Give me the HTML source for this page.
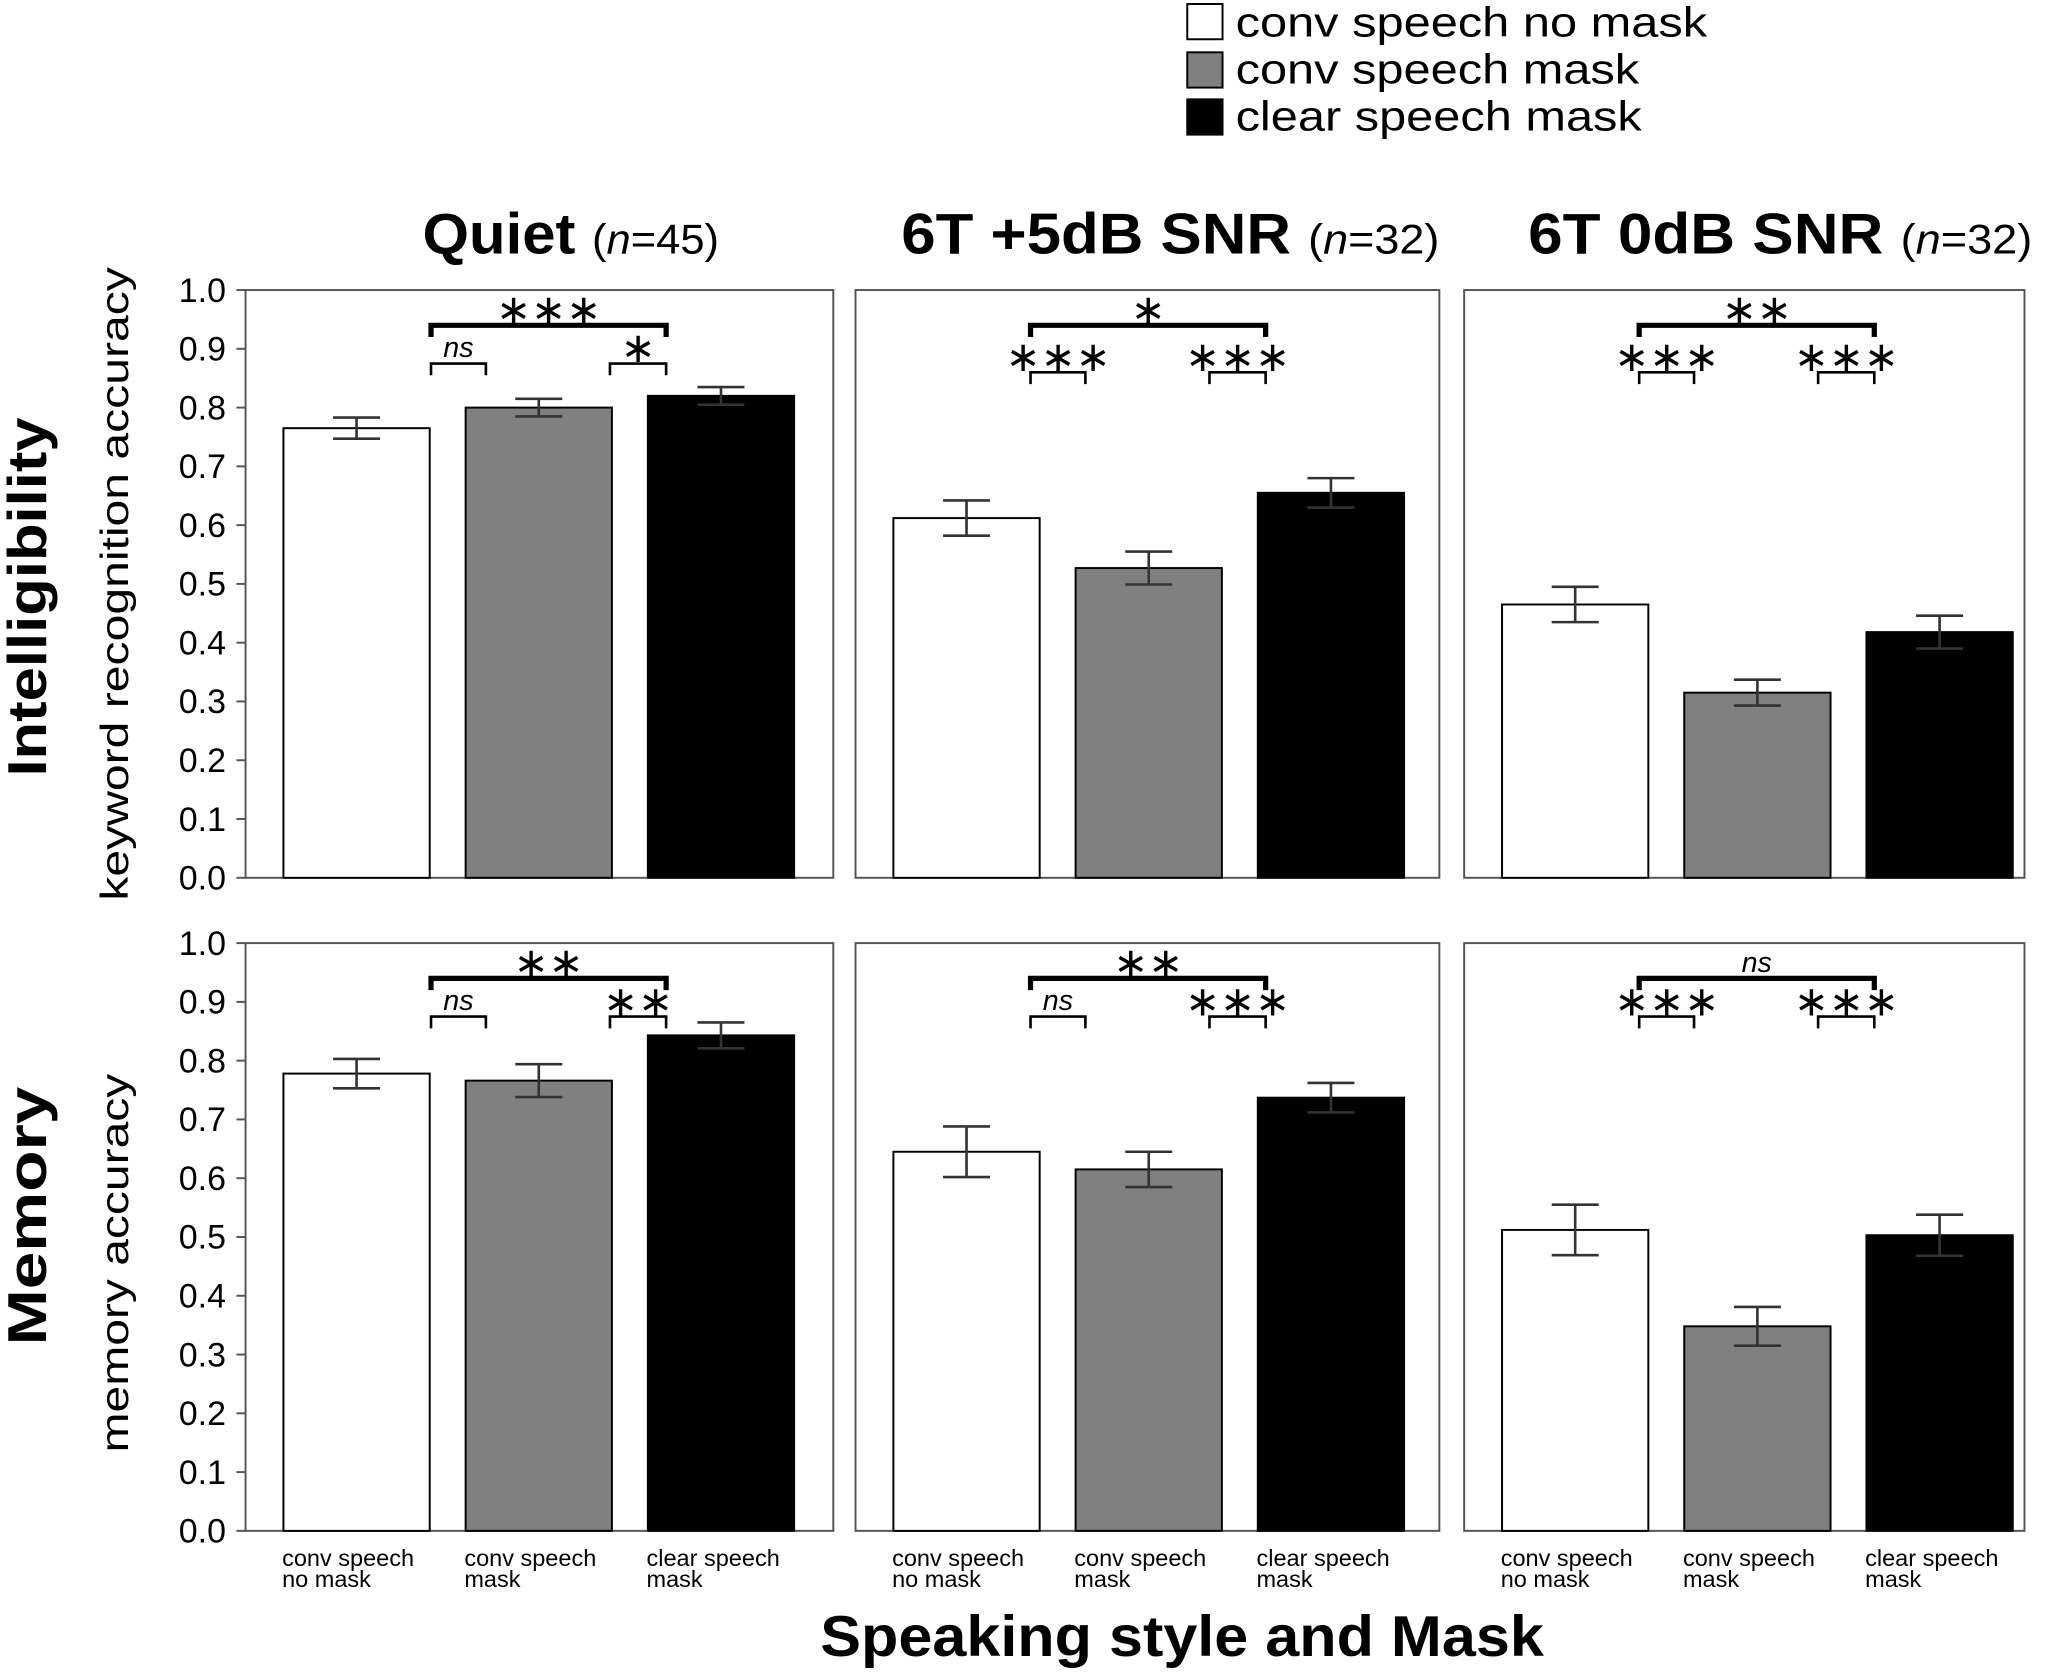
<!DOCTYPE html>
<html><head><meta charset="utf-8"><style>
html,body{margin:0;padding:0;background:#fff;}
svg{display:block;font-family:"Liberation Sans",Arial,sans-serif;}
</style></head><body>
<svg id="fig" width="2048" height="1672" viewBox="0 0 1568 1280" xmlns="http://www.w3.org/2000/svg">
<g>
<rect x="909" y="3" width="27" height="27" fill="#fff" stroke="#000" stroke-width="1.5"/>
<text x="946" y="28" font-size="32" textLength="361" lengthAdjust="spacingAndGlyphs">conv speech no mask</text>
<rect x="909" y="40" width="27" height="27" fill="#808080" stroke="#000" stroke-width="1.5"/>
<text x="946" y="64" font-size="32" textLength="309" lengthAdjust="spacingAndGlyphs">conv speech mask</text>
<rect x="909" y="76" width="27" height="27" fill="#000" stroke="#000" stroke-width="1.5"/>
<text x="946" y="100" font-size="32" textLength="311" lengthAdjust="spacingAndGlyphs">clear speech mask</text>
</g>
<text x="24" y="457" font-size="42" font-weight="bold" text-anchor="middle" textLength="275" lengthAdjust="spacingAndGlyphs" transform="rotate(-90 24 457)" dominant-baseline="middle">Intelligibility</text>
<text x="90" y="447" font-size="30" text-anchor="middle" textLength="485" lengthAdjust="spacingAndGlyphs" transform="rotate(-90 90 447)" dominant-baseline="middle">keyword recognition accuracy</text>
<text x="24" y="931" font-size="42" font-weight="bold" text-anchor="middle" textLength="198" lengthAdjust="spacingAndGlyphs" transform="rotate(-90 24 931)" dominant-baseline="middle">Memory</text>
<text x="90" y="967" font-size="30" text-anchor="middle" textLength="290" lengthAdjust="spacingAndGlyphs" transform="rotate(-90 90 967)" dominant-baseline="middle">memory accuracy</text>
<text x="905" y="1268" font-size="44" font-weight="bold" text-anchor="middle" textLength="554" lengthAdjust="spacingAndGlyphs">Speaking style and Mask</text>
</svg>
<script>
const panelTitles = ["Quiet", "6T +5dB SNR", "6T 0dB SNR"];
const panelN = ["45", "32", "32"];
const categoriesL1 = ["conv speech", "conv speech", "clear speech"];
const categoriesL2 = ["no mask", "mask", "mask"];
const intelValues = [[0.765, 0.800, 0.820], [0.612, 0.527, 0.655], [0.465, 0.315, 0.418]];
const intelErrors = [[0.018, 0.015, 0.015], [0.030, 0.028, 0.025], [0.030, 0.022, 0.028]];
const memValues = [[0.778, 0.766, 0.843], [0.645, 0.615, 0.737], [0.512, 0.348, 0.503]];
const memErrors = [[0.025, 0.028, 0.022], [0.043, 0.030, 0.025], [0.043, 0.033, 0.035]];
const intelSig = [["***", "ns", "*"], ["*", "***", "***"], ["**", "***", "***"]];
const memSig = [["**", "ns", "**"], ["**", "ns", "***"], ["ns", "***", "***"]];
const yTicks = [0, 0.1, 0.2, 0.3, 0.4, 0.5, 0.6, 0.7, 0.8, 0.9, 1.0];
const tickLabels = ["0.0","0.1","0.2","0.3","0.4","0.5","0.6","0.7","0.8","0.9","1.0"];

const NS = "http://www.w3.org/2000/svg";
const svg = document.getElementById("fig");
function mk(tag, attrs, parent) {
  const e = document.createElementNS(NS, tag);
  for (const k in attrs) e.setAttribute(k, attrs[k]);
  (parent || svg).appendChild(e);
  return e;
}
const panelX = [188, 655, 1121];
const panelW = [450, 447, 429];
const titleW = [227, 412, 386];
const titleCx = [437, 896, 1363];
const rowTop = [222, 722];
const H = 450;
const fills = ["#fff", "#808080", "#000"];
function yScale(row, v) { return rowTop[row] + H - v * H; }
function barX(p, i) { return panelX[p] + 29 + i * 139.5; }
const BW = 112;

panelTitles.forEach((t, p) => {
  const tx = mk("text", {x: titleCx[p], y: 194, "font-size": 44, "text-anchor": "middle", textLength: titleW[p], lengthAdjust: "spacingAndGlyphs"});
  
  
  const a = mk("tspan", {"font-weight": "bold"}, tx); a.textContent = t + " ";
  const b = mk("tspan", {"font-size": 32}, tx); b.textContent = "(";
  const c = mk("tspan", {"font-size": 32, "font-style": "italic"}, tx); c.textContent = "n";
  const d = mk("tspan", {"font-size": 32}, tx); d.textContent = "=" + panelN[p] + ")";
});

function sigText(x, y, s) {
  const isNs = s === "ns";
  let t;
  if (isNs) {
    t = mk("text", {x: x, y: y - 5, "font-size": 22, "font-style": "italic", "text-anchor": "middle"});
    t.textContent = s;
  } else {
    t = mk("text", {x: x, y: y - 1, "font-size": 32, "text-anchor": "middle", "font-family": "DejaVu Sans, sans-serif"});
    t.textContent = s.replace(/\*/g, "\u2217");
  }
  
  
}
function bracket(x1, x2, y, w, s) {
  const g = mk("path", {d: `M${x1},${y + 9}V${y}H${x2}V${y + 9}`, fill: "none", stroke: "#000", "stroke-width": w});
  
  
  sigText((x1 + x2) / 2, y, s);
}

[intelValues, memValues].forEach((vals, row) => {
  const errs = row === 0 ? intelErrors : memErrors;
  const sigs = row === 0 ? intelSig : memSig;
  for (let p = 0; p < 3; p++) {
    const fr = mk("rect", {x: panelX[p], y: rowTop[row], width: panelW[p], height: H, fill: "none", stroke: "#555", "stroke-width": 1.5});
    
    
    vals[p].forEach((v, i) => {
      const x = barX(p, i);
      const r = mk("rect", {x: x, y: yScale(row, v), width: BW, height: v * H, fill: fills[i], stroke: "#000", "stroke-width": 1.5});
      
      
      const cx = x + BW / 2, e = errs[p][i];
      const yt = yScale(row, v + e), yb = yScale(row, v - e);
      const eb = mk("path", {d: `M${cx - 18},${yt}H${cx + 18}M${cx},${yt}V${yb}M${cx - 18},${yb}H${cx + 18}`, stroke: "#333", "stroke-width": 2, fill: "none"});
      
      
      if (row === 1) {
        const l1 = mk("text", {x: x - 1, y: 1199, "font-size": 18});
        
        
        l1.textContent = categoriesL1[i];
        const l2 = mk("text", {x: x - 1, y: 1215, "font-size": 18});
        
        
        l2.textContent = categoriesL2[i];
      }
    });
    const b1a = barX(p, 0) + BW + (p === 0 ? 1 : -7);
    const b2b = barX(p, 2) + (p === 0 ? 14 : 6);
    const b1b = b1a + 42, b2a = b2b - 43;
    const smallY = yScale(row, (p === 0 || row === 1) ? 0.875 : 0.86);
    bracket(b1a, b2b, yScale(row, 0.94), 4, sigs[p][0]);
    bracket(b1a, b1b, smallY, 2, sigs[p][1]);
    bracket(b2a, b2b, smallY, 2, sigs[p][2]);
  }
  yTicks.forEach((t, k) => {
    const y = yScale(row, t);
    const tk = mk("line", {x1: 181, x2: 188, y1: y, y2: y, stroke: "#555", "stroke-width": 1.5});
    
    
    const tl = mk("text", {x: 173, y: y + 9, "font-size": 26, "text-anchor": "end"});
    
    
    tl.textContent = tickLabels[k];
  });
});
</script>
</body></html>
